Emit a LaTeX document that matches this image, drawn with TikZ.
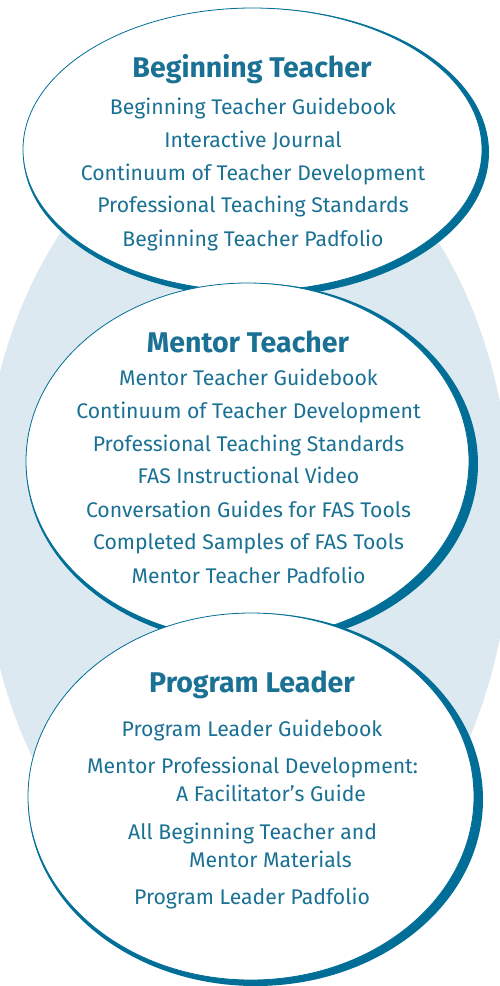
\documentclass[tikz,border=0pt]{standalone}
\usepackage{fontspec}
\setmainfont{Fira Sans}
\usetikzlibrary{shapes.geometric}
\definecolor{tealline}{HTML}{006E96}
\definecolor{tealtext}{HTML}{1A7194}
\definecolor{bgblue}{HTML}{DCE9F1}
\begin{document}
\begin{tikzpicture}[x=1pt,y=-1pt,
  item/.style={anchor=base, text=tealtext, font=\fontsize{21.2}{25}\selectfont, inner sep=0pt},
  itemw/.style={item, anchor=base west},
  head/.style={anchor=base, text=tealtext, font=\fontsize{28.5}{34}\selectfont\bfseries, inner sep=0pt},
  bubble/.style={ellipse, fill=white, draw=tealline, line width=0.8pt, inner sep=0pt},
  shade/.style={ellipse, fill=tealline, draw=none, inner sep=0pt}]
\useasboundingbox (0,0) rectangle (500,986);
\begin{scope}
  \clip (0,0) rectangle (500,986);
  \node[ellipse, fill=bgblue, inner sep=0pt, minimum width=530pt, minimum height=806pt] (bg) at (246.5,520) {};
\end{scope}
% Beginning Teacher
\node[shade, minimum width=466pt, minimum height=289pt] (s1) at (256,152.5) {};
\node[bubble, minimum width=459pt, minimum height=283pt] (e1) at (252.5,149.5) {};
\node[head] (t1) at (252,77) {Beginning Teacher};
\node[item] (a1) at (253,114) {Beginning Teacher Guidebook};
\node[item] (a2) at (253,147) {Interactive Journal};
\node[item] (a3) at (253,180) {Continuum of Teacher Development};
\node[item] (a4) at (253,212) {Professional Teaching Standards};
\node[item] (a5) at (253,246) {Beginning Teacher Padfolio};
% Mentor Teacher
\node[shade, minimum width=452pt, minimum height=362pt] (s2) at (252,464) {};
\node[bubble, minimum width=443pt, minimum height=356pt] (e2) at (247.5,461) {};
\node[head] (t2) at (248,352) {Mentor Teacher};
\node[item] (b1) at (248.5,385) {Mentor Teacher Guidebook};
\node[item] (b2) at (248.5,418) {Continuum of Teacher Development};
\node[item] (b3) at (248.5,451) {Professional Teaching Standards};
\node[item] (b4) at (248.5,483) {FAS Instructional Video};
\node[item] (b5) at (248.5,517) {Conversation Guides for FAS Tools};
\node[item] (b6) at (248.5,549) {Completed Samples of FAS Tools};
\node[item] (b7) at (248.5,583) {Mentor Teacher Padfolio};
% Program Leader
\node[shade, minimum width=455pt, minimum height=373pt] (s3) at (255.5,799.5) {};
\node[bubble, minimum width=446pt, minimum height=367pt] (e3) at (251,796.5) {};
\node[head] (t3) at (252,692) {Program Leader};
\node[item] (c1) at (252,736) {Program Leader Guidebook};
\node[itemw] (c2) at (87,773) {Mentor Professional Development:};
\node[itemw] (c3) at (176,801) {A Facilitator’s Guide};
\node[itemw] (c4) at (128,839) {All Beginning Teacher and};
\node[itemw] (c5) at (189,867) {Mentor Materials};
\node[item] (c6) at (252,904) {Program Leader Padfolio};
\end{tikzpicture}
\end{document}
